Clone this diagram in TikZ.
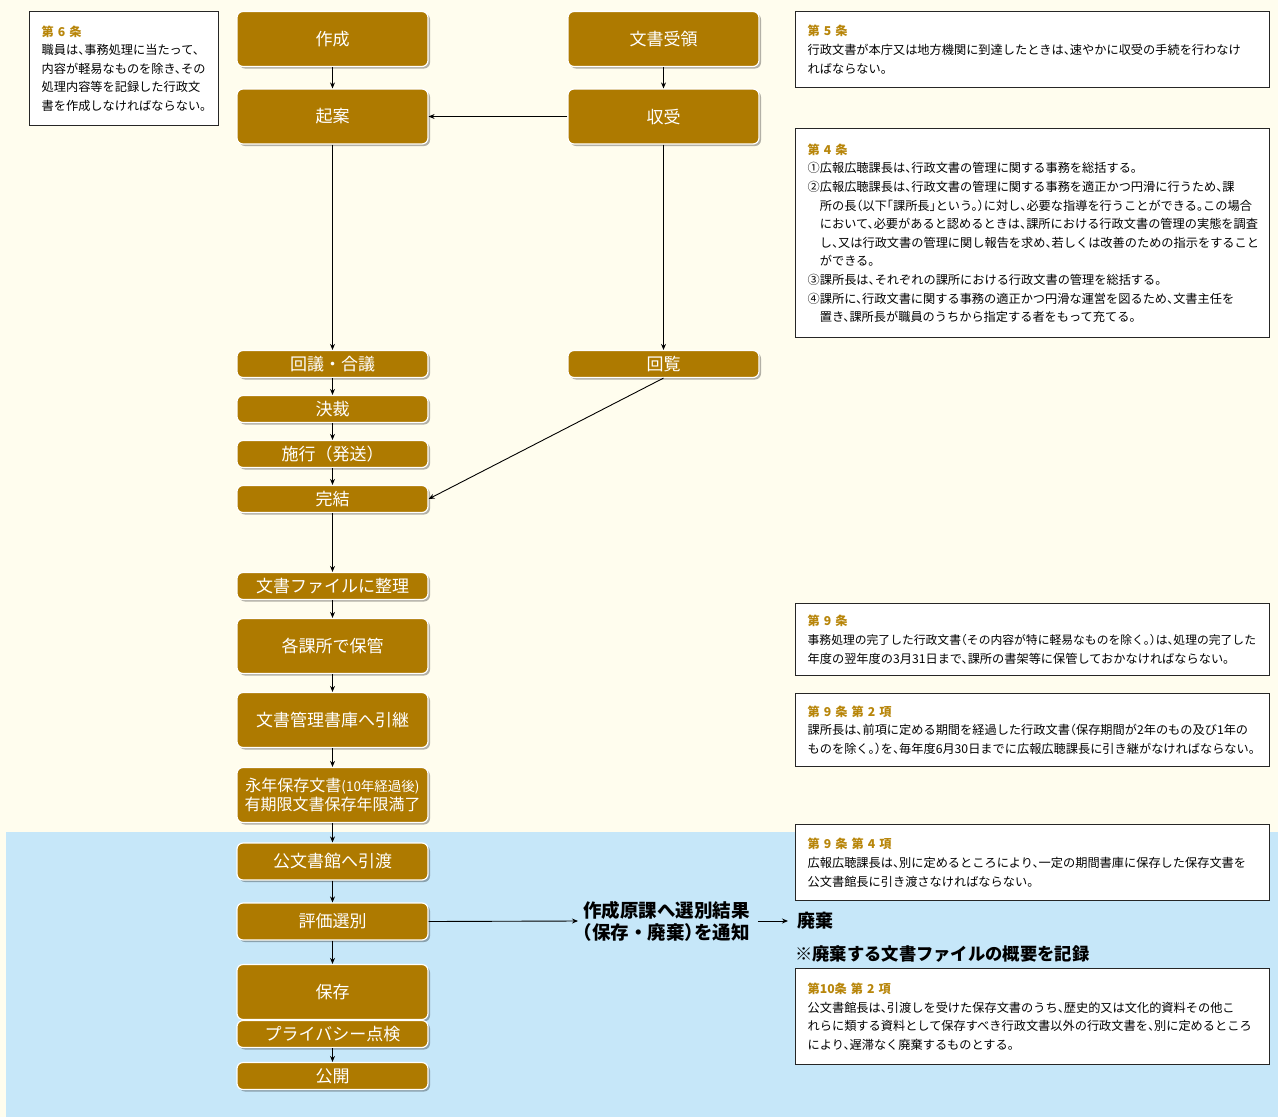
\documentclass[tikz,border=0pt]{standalone}
\usepackage{fontspec}
\setmainfont{Noto Sans CJK JP}
\newfontfamily\jp{Noto Sans CJK JP}
\newfontfamily\jpbody[RawFeature=+halt]{Noto Sans CJK JP}
\usetikzlibrary{shadows,arrows.meta}
\definecolor{cream}{HTML}{FFFDEE}
\definecolor{skyb}{HTML}{C6E7F9}
\definecolor{boxgold}{HTML}{AE7A00}
\definecolor{titlegold}{HTML}{B8860B}
\tikzset{
  flowbox/.style={draw=white, line width=1.2pt, fill=boxgold, rounded corners=6pt,
    text=white, minimum width=191pt, inner sep=0pt, align=center,
    font=\jp\fontsize{17}{20}\selectfont,
    drop shadow={shadow xshift=2pt, shadow yshift=-2pt, fill=black, opacity=0.3}},
  tall/.style={minimum height=55pt},
  mid/.style={minimum height=37pt},
  short/.style={minimum height=27pt},
  arr/.style={-{Stealth[length=6pt,width=5pt]}, line width=0.9pt, black},
  lawbox/.style={draw=black!85, line width=1.3pt, fill=white, anchor=north west,
    inner xsep=12pt, inner ysep=0pt, align=left,
    font=\jpbody\fontsize{12.2}{18.6}\selectfont},
  boldlabel/.style={anchor=west, inner sep=0pt, align=left, text=black,
    font=\jp\bfseries\fontsize{18}{22}\selectfont}
}
\newcommand{\lawtitle}[1]{\textcolor{titlegold}{\bfseries #1}}
\begin{document}
\begin{tikzpicture}[x=1pt,y=-1pt]
\useasboundingbox (0,0) rectangle (1278,1117);
\fill[cream] (0,0) rectangle (1278,1117);
\fill[skyb] (6,832) rectangle (1278,1117);

% flow boxes
\node[flowbox, tall] (sakusei) at (332.5,39) {作成};
\node[flowbox, tall] (kian) at (332.5,116.5) {起案};
\node[flowbox, tall] (juryo) at (663.5,39) {文書受領};
\node[flowbox, tall] (shuju) at (663.5,116.5) {収受};
\node[flowbox, short] (kaigi) at (332.5,364) {回議・合議};
\node[flowbox, short] (kessai) at (332.5,409) {決裁};
\node[flowbox, short] (shiko) at (332.5,454) {施行（発送）};
\node[flowbox, short] (kanketsu) at (332.5,499) {完結};
\node[flowbox, short] (kairan) at (663.5,364) {回覧};
\node[flowbox, short] (seiri) at (332.5,586) {文書ファイルに整理};
\node[flowbox, tall] (hokan) at (332.5,646) {各課所で保管};
\node[flowbox, tall] (hikitsugi) at (332.5,720) {文書管理書庫へ引継};
\node[flowbox, tall, font=\jp\fontsize{16}{19}\selectfont] (einen) at (332.5,795)
  {永年保存文書{\fontsize{13.5}{19}\selectfont(10年経過後)}\\有期限文書保存年限満了};
\node[flowbox, mid] (hikiwatashi) at (332.5,861.5) {公文書館へ引渡};
\node[flowbox, mid] (hyoka) at (332.5,921.5) {評価選別};
\node[flowbox, tall] (hozon) at (332.5,992) {保存};
\node[flowbox, short] (privacy) at (332.5,1034) {プライバシー点検};
\node[flowbox, short] (kokai) at (332.5,1076) {公開};

% connectors
\draw[arr] (sakusei.south) -- (kian.north);
\draw[arr] (juryo.south) -- (shuju.north);
\draw[arr] (shuju.west) -- (kian.east);
\draw[arr] (kian.south) -- (kaigi.north);
\draw[arr] (shuju.south) -- (kairan.north);
\draw[arr] (kaigi.south) -- (kessai.north);
\draw[arr] (kessai.south) -- (shiko.north);
\draw[arr] (shiko.south) -- (kanketsu.north);
\draw[arr] (kairan.south) -- (kanketsu.east);
\draw[arr] (kanketsu.south) -- (seiri.north);
\draw[arr] (seiri.south) -- (hokan.north);
\draw[arr] (hokan.south) -- (hikitsugi.north);
\draw[arr] (hikitsugi.south) -- (einen.north);
\draw[arr] (einen.south) -- (hikiwatashi.north);
\draw[arr] (hikiwatashi.south) -- (hyoka.north);
\draw[arr] (hyoka.south) -- (hozon.north);
\draw[arr] (privacy.south) -- (kokai.north);

% notification texts
\node[boldlabel, font=\jp\bfseries\fontsize{18.5}{22}\selectfont] (tsuchi) at (583,921)
  {作成原課へ選別結果\\{\jpbody（}保存・廃棄{\jpbody）}を通知};
\node[boldlabel] (haiki) at (797,921) {廃棄};
\node[boldlabel, font=\jp\bfseries\fontsize{17.3}{20}\selectfont] (kiroku) at (795,954) {※廃棄する文書ファイルの概要を記録};
\draw[arr] (hyoka.east) -- ([xshift=-5pt]tsuchi.west);
\draw[arr] ([xshift=8pt]tsuchi.east) -- ([xshift=-9pt]haiki.west);

% law boxes
\node[lawbox, text width=165pt, minimum height=114pt] (art6) at (29,11)
  {\lawtitle{第 6 条}\\
   職員は、事務処理に当たって、\\
   内容が軽易なものを除き、その\\
   処理内容等を記録した行政文\\
   書を作成しなければならない。};
\node[lawbox, text width=450pt, minimum height=76pt] (art5) at (795,11)
  {\lawtitle{第 5 条}\\
   行政文書が本庁又は地方機関に到達したときは、速やかに収受の手続を行わなけ\\
   ればならない。};
\node[lawbox, text width=450pt, minimum height=209pt] (art4) at (795,128)
  {\lawtitle{第 4 条}\\
   ①広報広聴課長は、行政文書の管理に関する事務を総括する。\\
   ②広報広聴課長は、行政文書の管理に関する事務を適正かつ円滑に行うため、課\\
   \hspace*{1em}所の長（以下「課所長」という。）に対し、必要な指導を行うことができる。この場合\\
   \hspace*{1em}において、必要があると認めるときは、課所における行政文書の管理の実態を調査\\
   \hspace*{1em}し、又は行政文書の管理に関し報告を求め、若しくは改善のための指示をすること\\
   \hspace*{1em}ができる。\\
   ③課所長は、それぞれの課所における行政文書の管理を総括する。\\
   ④課所に、行政文書に関する事務の適正かつ円滑な運営を図るため、文書主任を\\
   \hspace*{1em}置き、課所長が職員のうちから指定する者をもって充てる。};
\node[lawbox, text width=450pt, minimum height=72pt] (art9) at (795,603)
  {\lawtitle{第 9 条}\\
   {\fontsize{11.8}{18.6}\selectfont 事務処理の完了した行政文書（その内容が特に軽易なものを除く。）は、処理の完了した}\\
   年度の翌年度の3月31日まで、課所の書架等に保管しておかなければならない。};
\node[lawbox, text width=450pt, minimum height=73pt] (art92) at (795,693)
  {\lawtitle{第 9 条\ 第 2 項}\\
   課所長は、前項に定める期間を経過した行政文書（保存期間が2年のもの及び1年の\\
   ものを除く。）を、毎年度6月30日までに広報広聴課長に引き継がなければならない。};
\node[lawbox, text width=450pt, minimum height=76pt] (art94) at (795,824)
  {\lawtitle{第 9 条\ 第 4 項}\\
   広報広聴課長は、別に定めるところにより、一定の期間書庫に保存した保存文書を\\
   公文書館長に引き渡さなければならない。};
\node[lawbox, text width=450pt, minimum height=96pt] (art102) at (795,968)
  {\lawtitle{第10条\ 第 2 項}\\
   公文書館長は、引渡しを受けた保存文書のうち、歴史的又は文化的資料その他こ\\
   れらに類する資料として保存すべき行政文書以外の行政文書を、別に定めるところ\\
   により、遅滞なく廃棄するものとする。};
\end{tikzpicture}
\end{document}
